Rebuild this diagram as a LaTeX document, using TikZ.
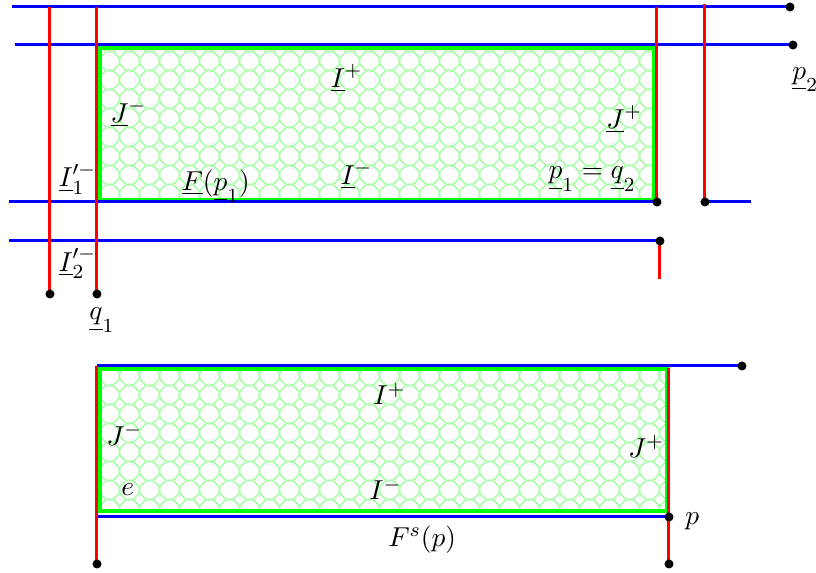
\documentclass[tikz,border=0pt,11pt]{standalone}
\usepackage{amsmath,amssymb}
\usepackage{tikz}
\usetikzlibrary{patterns}

% octagon tiling for the shaded regions
\pgfdeclarepatternformonly{octagons}{\pgfpointorigin}{\pgfpoint{8pt}{7.4pt}}{\pgfpoint{8pt}{7.4pt}}{%
  \pgfsetlinewidth{0.4pt}
  \pgfpathmoveto{\pgfpoint{2.3pt}{0pt}}
  \pgfpathlineto{\pgfpoint{5.7pt}{0pt}}
  \pgfpathlineto{\pgfpoint{8pt}{2.3pt}}
  \pgfpathlineto{\pgfpoint{8pt}{5.1pt}}
  \pgfpathlineto{\pgfpoint{5.7pt}{7.4pt}}
  \pgfpathlineto{\pgfpoint{2.3pt}{7.4pt}}
  \pgfpathlineto{\pgfpoint{0pt}{5.1pt}}
  \pgfpathlineto{\pgfpoint{0pt}{2.3pt}}
  \pgfpathclose
  \pgfusepath{stroke}%
}

\tikzstyle{blueline} = [blue, line width=1.2pt]
\tikzstyle{redline} = [red, line width=1.2pt]
\tikzstyle{region} = [draw=green, line width=1.6pt, pattern=octagons, pattern color=green!50]
\tikzstyle{lab} = [inner sep=0pt, anchor=base west]

\begin{document}
\begin{tikzpicture}[x=0.4pt, y=-0.4pt]
    \useasboundingbox (0,0) rectangle (816,573);
    % Upper picture
    \draw[region] (100,48) rectangle (654,200);
    \coordinate (t1w) at (12,7);   \coordinate (t1e) at (790,7);
    \coordinate (t2w) at (15,45);  \coordinate (t2e) at (793,45);
    \coordinate (t3w) at (9,202);  \coordinate (t3e) at (657,202);
    \coordinate (t4w) at (705,202); \coordinate (t4e) at (751,202);
    \coordinate (t5w) at (9,241);  \coordinate (t5e) at (660,241);
    \coordinate (r1n) at (50,7);   \coordinate (r1s) at (50,294);
    \coordinate (r2n) at (97,7);   \coordinate (r2s) at (97,294);
    \coordinate (r3n) at (657,7);
    \coordinate (r4n) at (705,4);
    \coordinate (r5s) at (660,279);
    \foreach \a/\b in {t1w/t1e,t2w/t2e,t3w/t3e,t4w/t4e,t5w/t5e}
        \draw[blueline] (\a) -- (\b);
    \foreach \a/\b in {r1n/r1s,r2n/r2s,r3n/t3e,r4n/t4w,t5e/r5s}
        \draw[redline] (\a) -- (\b);
    % Lower picture
    \draw[region] (100,369) rectangle (667,511);
    \coordinate (u1w) at (97,366);  \coordinate (u1e) at (742,366);
    \coordinate (u2w) at (97,517);  \coordinate (u2e) at (669,517);
    \coordinate (v1s) at (97,564);
    \coordinate (v2n) at (669,368); \coordinate (v2s) at (669,564);
    \draw[blueline] (u1w) -- (u1e);
    \draw[blueline] (u2w) -- (u2e);
    \draw[redline] (u1w) -- (v1s);
    \draw[redline] (v2n) -- (v2s);
    % Dots
    \foreach \c in {t1e,t2e,t3e,t4w,t5e,r1s,r2s,u1e,u2e,v1s,v2s}
        \fill (\c) circle (1.8pt);
    % Labels
    \node[lab] (Iplus) at (330,87) {$\underline{I}^+$};
    \node[lab] (Jminus) at (110,122) {$\underline{J}^-$};
    \node[lab] (Jplus) at (606,128) {$\underline{J}^+$};
    \node[lab] (Iminus) at (340,184) {$\underline{I}^-$};
    \node[lab] (Fp) at (181,190) {$\underline{F}(\underline{p}_1)$};
    \node[lab] (pq) at (548,179) {$\underline{p}_1 = \underline{q}_2$};
    \node[lab] (Ione) at (58,187) {$\underline{I}'^-_1$};
    \node[lab] (Itwo) at (58,271) {$\underline{I}'^-_2$};
    \node[lab] (qone) at (89,320) {$\underline{q}_1$};
    \node[lab] (ptwo) at (792,79) {$\underline{p}_2$};
    \node[lab] (Iplusb) at (373,405) {$I^+$};
    \node[lab] (Jminusb) at (106,445) {$J^-$};
    \node[lab] (Jplusb) at (628,457) {$J^+$};
    \node[lab] (e) at (121,496) {$e$};
    \node[lab] (Iminusb) at (369,500) {$I^-$};
    \node[lab] (Fs) at (388,546) {$F^s(p)$};
    \node[lab] (p) at (685,525) {$p$};
\end{tikzpicture}
\end{document}
